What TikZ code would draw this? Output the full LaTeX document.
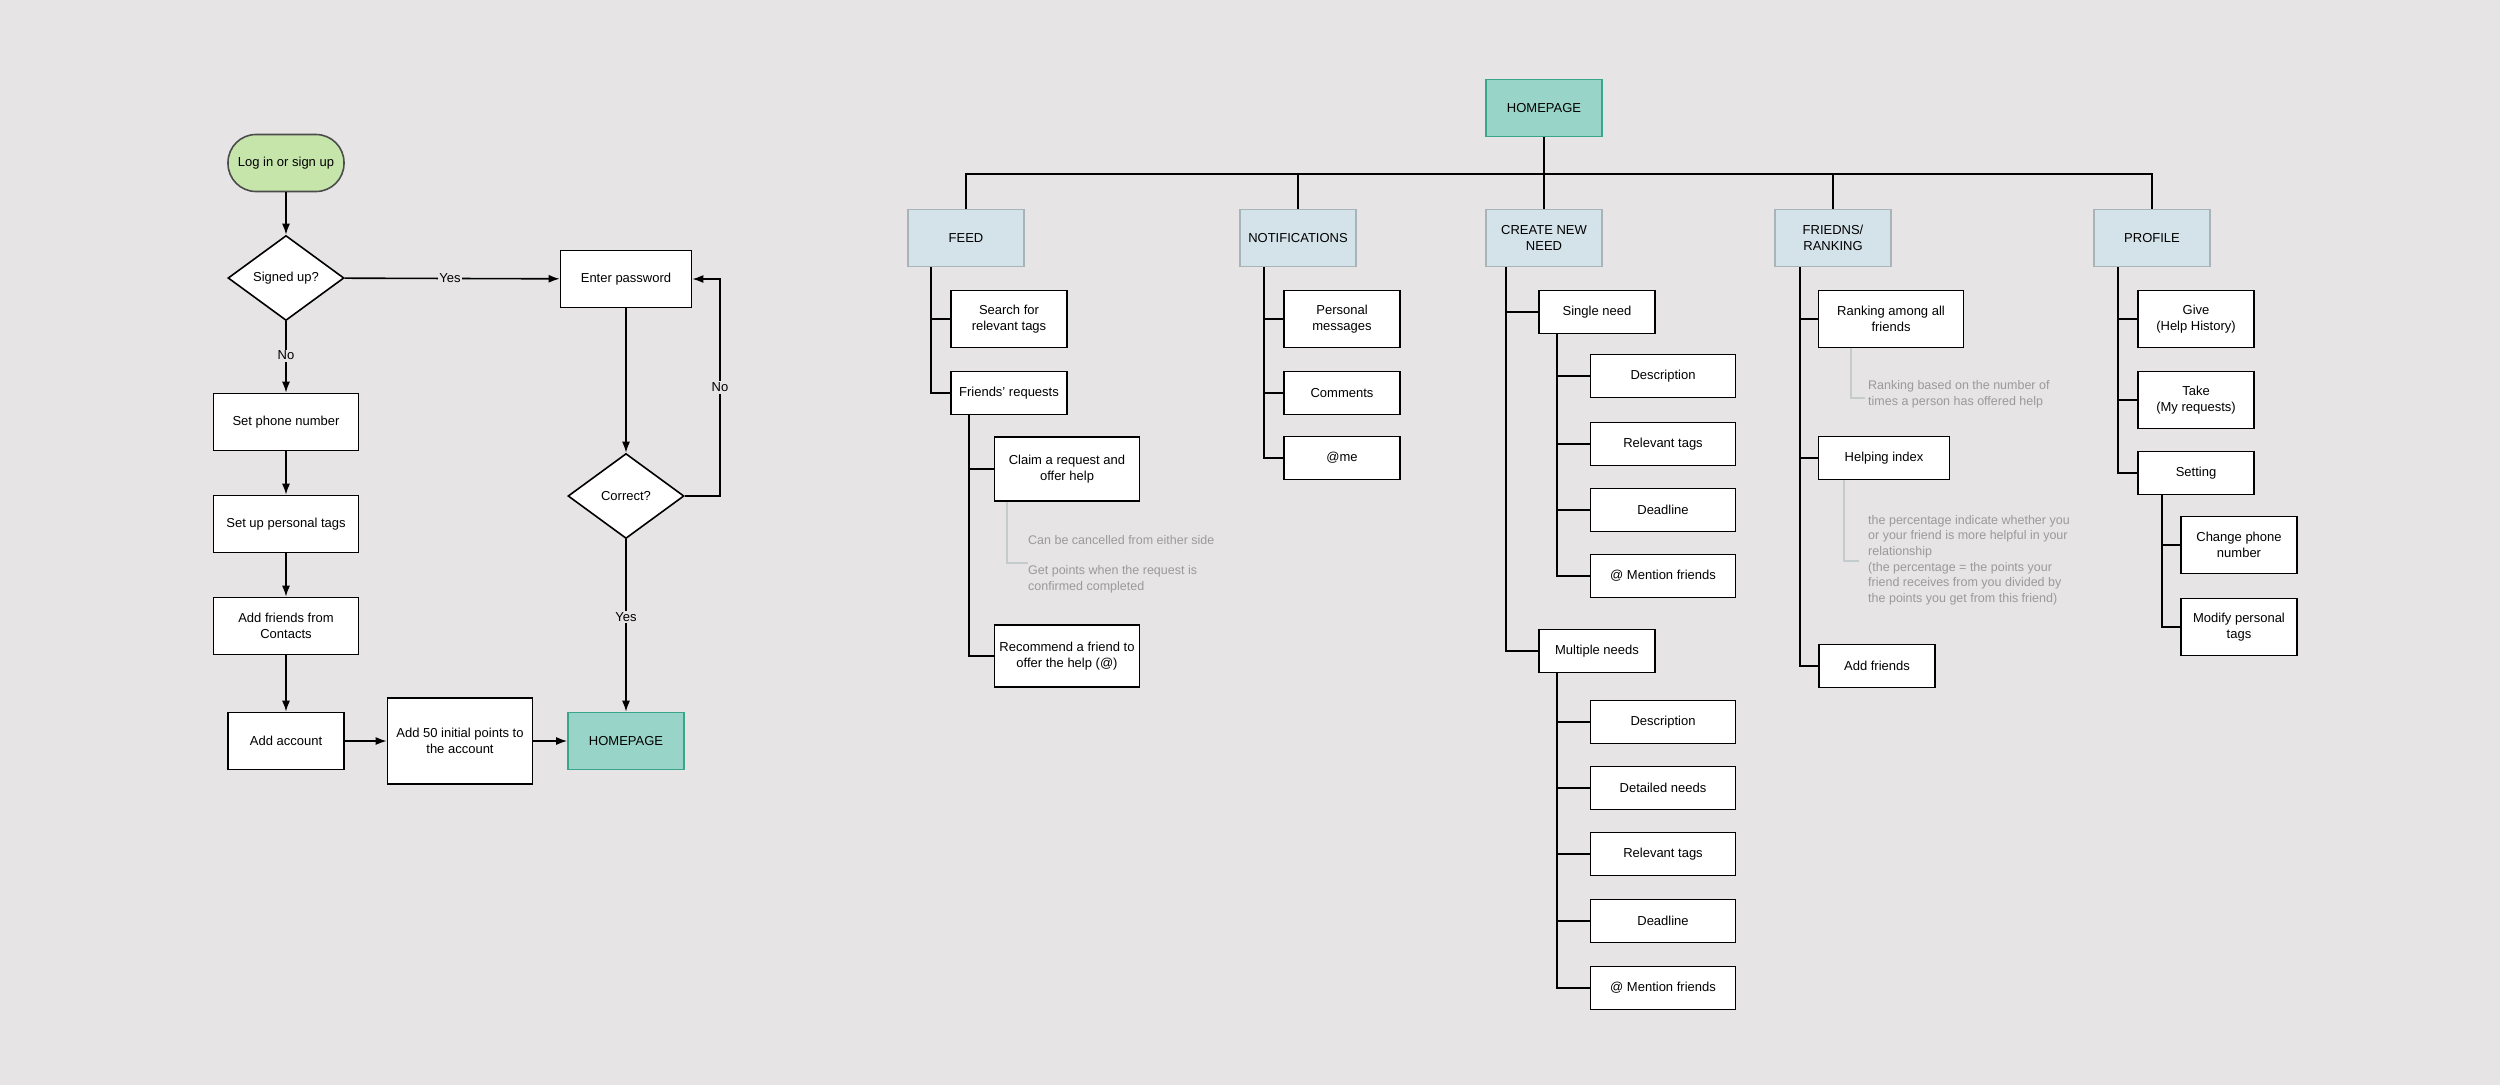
\documentclass[tikz,border=0pt]{standalone}
\usepackage{fontspec}
\setmainfont{Liberation Sans}
\usetikzlibrary{arrows.meta,shapes.geometric}
\definecolor{bg}{HTML}{E6E4E5}
\definecolor{catfill}{HTML}{D4E3EA}
\definecolor{catdraw}{HTML}{A9B4B8}
\definecolor{homefill}{HTML}{98D5C8}
\definecolor{homedraw}{HTML}{3BA58B}
\definecolor{loginfill}{HTML}{C6E5AB}
\definecolor{notegray}{HTML}{9A9A9A}
\tikzset{
  box/.style={draw=black,fill=white,line width=1.6pt,align=center,inner sep=0pt,minimum width=#1,font=\fontsize{13}{16}\selectfont},
  box/.default=116pt,
  cat/.style={draw=catdraw,fill=catfill,line width=1.6pt,align=center,inner sep=0pt,minimum width=116pt,minimum height=57pt,font=\fontsize{13}{16}\selectfont},
  homebox/.style={draw=homedraw,fill=homefill,line width=1.6pt,align=center,inner sep=0pt,minimum width=116pt,minimum height=57pt,font=\fontsize{13}{16}\selectfont},
  dia/.style={diamond,draw=black,fill=white,line width=1.6pt,align=center,inner sep=0pt,minimum width=116pt,minimum height=85pt,aspect=1.36,font=\fontsize{13}{16}\selectfont},
  arr/.style={line width=1.6pt,-{Latex[length=11pt,width=8pt]}},
  ln/.style={line width=1.6pt},
  noteln/.style={line width=1.2pt,draw=catdraw!70},
  note/.style={text=notegray,align=left,anchor=west,inner sep=0pt,font=\fontsize{12.5}{15.6}\selectfont},
  lbl/.style={fill=bg,inner sep=1.5pt,font=\fontsize{13}{16}\selectfont},
}
\begin{document}
\begin{tikzpicture}[x=1pt,y=-1pt]
\fill[bg] (0,0) rectangle (2500,1085);
\useasboundingbox (0,0) rectangle (2500,1085);
% ---------- left flowchart ----------
\node[box,draw=black!70,fill=loginfill,minimum height=57pt,rounded corners=28pt] (login) at (286,163) {Log in or sign up};
\node[dia] (signed) at (286,278) {Signed up?};
\node[box=131pt,minimum height=57pt] (pwd) at (626,279) {Enter password};
\node[box=145pt,minimum height=57pt] (phone) at (286,422) {Set phone number};
\node[box=145pt,minimum height=57pt] (tags) at (286,524) {Set up personal tags};
\node[box=145pt,minimum height=57pt] (friends) at (286,626) {Add friends from\\Contacts};
\node[box,minimum height=57pt] (account) at (286,741) {Add account};
\node[box=145pt,minimum height=86pt] (points) at (460,741) {Add 50 initial points to\\the account};
\node[homebox] (home1) at (626,741) {HOMEPAGE};
\node[dia] (correct) at (626,496) {Correct?};
\coordinate (loopx) at (720,0);
\draw[arr] (login) -- (signed);
\draw[arr] (signed) -- node[lbl,pos=0.49]{Yes} (pwd);
\draw[arr] (signed) -- node[lbl,pos=0.48]{No} (phone);
\draw[arr] (phone) -- (tags);
\draw[arr] (tags) -- (friends);
\draw[arr] (friends) -- (account);
\draw[arr] (account) -- (points);
\draw[arr] (points) -- (home1);
\draw[arr] (pwd) -- (correct);
\draw[arr] (correct) -- node[lbl,pos=0.45]{Yes} (home1);
\draw[arr] (correct.east) -- (correct.east -| loopx) -- node[lbl]{No} (pwd.east -| loopx) -- (pwd.east);
% ---------- right tree ----------
\node[homebox] (home) at (1544,108) {HOMEPAGE};
\coordinate (bus) at (1544,174);
\node[cat] (feed) at (966,238) {FEED};
\node[cat] (notif) at (1298,238) {NOTIFICATIONS};
\node[cat] (create) at (1544,238) {CREATE NEW\\NEED};
\node[cat] (frnd) at (1833,238) {FRIEDNS/\\RANKING};
\node[cat] (prof) at (2152,238) {PROFILE};
\draw[ln] (home.south) -- (bus);
\draw[ln] (feed.north) |- (bus) -| (prof.north);
\draw[ln] (notif.north) -- (notif.north |- bus);
\draw[ln] (create.north) -- (create.north |- bus);
\draw[ln] (frnd.north) -- (frnd.north |- bus);
% FEED
\coordinate (feedT) at (931,0);
\node[box,minimum height=57pt] (search) at (1009,319) {Search for\\relevant tags};
\node[box,minimum height=43pt] (freq) at (1009,393) {Friends' requests};
\draw[ln] (feed.south -| feedT) |- (search.west);
\draw[ln] (feed.south -| feedT) |- (freq.west);
\coordinate (freqT) at (969,0);
\node[box=145pt,minimum height=64pt] (claim) at (1067,469) {Claim a request and\\offer help};
\node[box=145pt,minimum height=62pt] (recom) at (1067,656) {Recommend a friend to\\offer the help (@)};
\draw[ln] (freq.south -| freqT) |- (claim.west);
\draw[ln] (freq.south -| freqT) |- (recom.west);
\coordinate (n1) at (1007,563);
\node[note] (cannote) at (1028,540) {Can be cancelled from either side};
\node[note] (getnote) at (1028,579) {Get points when the request is\\confirmed completed};
\draw[noteln] (claim.south -| n1) -- (n1) -- (n1 -| cannote.west);
% NOTIFICATIONS
\coordinate (notT) at (1264,0);
\node[box,minimum height=57pt] (pm) at (1342,319) {Personal\\messages};
\node[box,minimum height=43pt] (comm) at (1342,393) {Comments};
\node[box,minimum height=43pt] (atme) at (1342,458) {@me};
\foreach \c in {pm,comm,atme} \draw[ln] (notif.south -| notT) |- (\c.west);
% CREATE NEW NEED
\coordinate (crT) at (1506,0);
\node[box,minimum height=43pt] (single) at (1597,312) {Single need};
\node[box,minimum height=43pt] (multi) at (1597,651) {Multiple needs};
\draw[ln] (create.south -| crT) |- (single.west);
\draw[ln] (create.south -| crT) |- (multi.west);
\coordinate (sT) at (1557,0);
\node[box=145pt,minimum height=43pt] (s1) at (1663,376) {Description};
\node[box=145pt,minimum height=43pt] (s2) at (1663,444) {Relevant tags};
\node[box=145pt,minimum height=43pt] (s3) at (1663,510) {Deadline};
\node[box=145pt,minimum height=43pt] (s4) at (1663,576) {@ Mention friends};
\foreach \c in {s1,s2,s3,s4} \draw[ln] (single.south -| sT) |- (\c.west);
\node[box=145pt,minimum height=43pt] (m1) at (1663,722) {Description};
\node[box=145pt,minimum height=43pt] (m2) at (1663,788) {Detailed needs};
\node[box=145pt,minimum height=43pt] (m3) at (1663,854) {Relevant tags};
\node[box=145pt,minimum height=43pt] (m4) at (1663,921) {Deadline};
\node[box=145pt,minimum height=43pt] (m5) at (1663,988) {@ Mention friends};
\foreach \c in {m1,m2,m3,m4,m5} \draw[ln] (multi.south -| sT) |- (\c.west);
% FRIENDS / RANKING
\coordinate (frT) at (1800,0);
\node[box=145pt,minimum height=57pt] (rank) at (1891,319) {Ranking among all\\friends};
\node[box=131pt,minimum height=43pt] (help) at (1884,458) {Helping index};
\node[box,minimum height=43pt] (addf) at (1877,666) {Add friends};
\foreach \c in {rank,help,addf} \draw[ln] (frnd.south -| frT) |- (\c.west);
\coordinate (n2) at (1851,398);
\node[note] (ranknote) at (1868,394) {Ranking based on the number of\\times a person has offered help};
\draw[noteln] (rank.south -| n2) -- (n2) -- ++(14,0);
\coordinate (n3) at (1844,561);
\node[note] (helpnote) at (1868,560) {the percentage indicate whether you\\or your friend is more helpful in your\\relationship\\(the percentage = the points your\\friend receives from you divided by\\the points you get from this friend)};
\draw[noteln] (help.south -| n3) -- (n3) -- ++(15,0);
% PROFILE
\coordinate (prT) at (2118,0);
\node[box,minimum height=57pt] (give) at (2196,319) {Give\\(Help History)};
\node[box,minimum height=57pt] (take) at (2196,400) {Take\\(My requests)};
\node[box,minimum height=43pt] (sett) at (2196,473) {Setting};
\foreach \c in {give,take,sett} \draw[ln] (prof.south -| prT) |- (\c.west);
\coordinate (stT) at (2162,0);
\node[box,minimum height=57pt] (chg) at (2239,545) {Change phone\\number};
\node[box,minimum height=57pt] (mod) at (2239,627) {Modify personal\\tags};
\foreach \c in {chg,mod} \draw[ln] (sett.south -| stT) |- (\c.west);
\end{tikzpicture}
\end{document}
